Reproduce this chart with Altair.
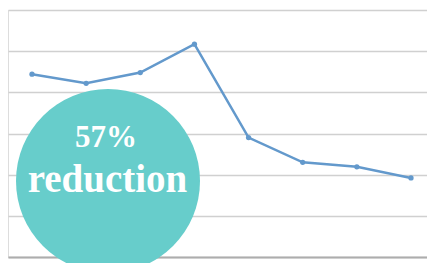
import altair as alt
import pandas as pd

categories = ["P1", "P2", "P3", "P4", "P5", "P6", "P7", "P8"]
values = [44.4, 42.2, 44.8, 51.7, 29.0, 23.0, 21.9, 19.2]
y_ticks = [0, 10, 20, 30, 40, 50, 60]
badge_lines = ["57%", "reduction"]

df = pd.DataFrame({"cat": categories, "val": values})

x_enc = alt.X("cat:N", sort=categories,
              scale=alt.Scale(type="point", padding=0.3695, align=0.6),
              axis=alt.Axis(title=None, labels=False, ticks=False, grid=False,
                            domain=True, domainColor="#ADADAD", domainWidth=2))
y_enc = alt.Y("val:Q", scale=alt.Scale(domain=[0, 60], nice=False),
              axis=alt.Axis(title=None, labels=False, ticks=False, domain=False,
                            values=y_ticks, gridColor="#D0D0D0", gridWidth=1.3))

line = alt.Chart(df).mark_line(
    color="#6399CC", strokeWidth=2.5,
    point=alt.OverlayMarkDef(color="#6399CC", size=28, filled=True, opacity=1)
).encode(x=x_enc, y=y_enc)

badge = alt.Chart(pd.DataFrame({"k": [1]})).mark_point(
    shape="circle", filled=True, color="#67CDCB", opacity=1, clip=False
).encode(x=alt.value(100), y=alt.value(171), size=alt.value(33856))

t1 = alt.Chart(pd.DataFrame({"t": [badge_lines[0]]})).mark_text(
    font="Liberation Serif", fontWeight="bold", fontSize=31, color="white",
    align="center", baseline="alphabetic"
).encode(text="t:N", x=alt.value(98), y=alt.value(137))

t2 = alt.Chart(pd.DataFrame({"t": [badge_lines[1]]})).mark_text(
    font="Liberation Serif", fontWeight="bold", fontSize=39, color="white",
    align="center", baseline="alphabetic"
).encode(text="t:N", x=alt.value(99.5), y=alt.value(182))

chart = alt.layer(line, badge, t1, t2).properties(
    width=419, height=247,
    autosize=alt.AutoSizeParams(type="none"),
    padding={"left": 0, "top": 2, "right": 0, "bottom": 6},
).configure_view(stroke="transparent", strokeWidth=0).configure(background="white")

chart.save("out.html", embed_options={"renderer": "svg", "actions": False})
